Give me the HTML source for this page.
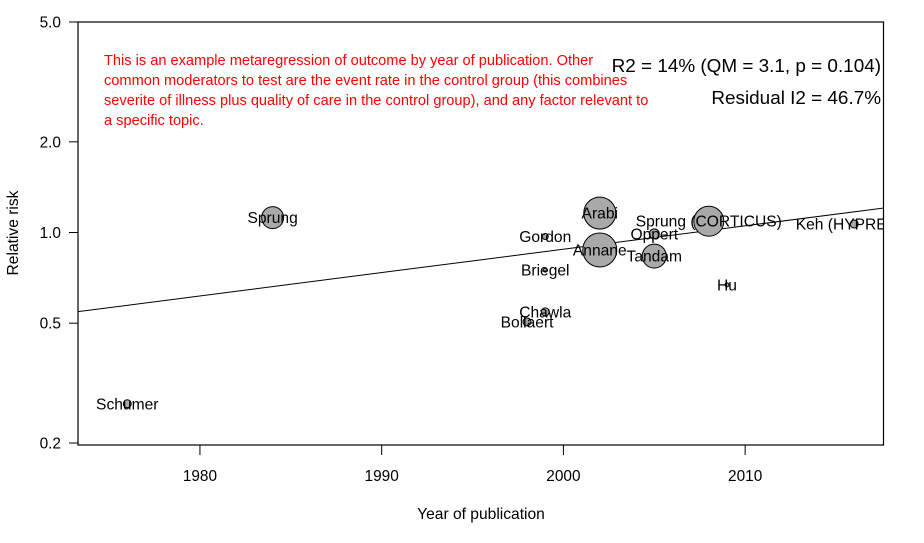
<!DOCTYPE html>
<html><head><meta charset="utf-8"><style>
html,body{margin:0;padding:0;background:#fff;}
svg{display:block;font-family:"Liberation Sans",Arial,sans-serif;}
</style></head><body>
<svg id="chart" width="924" height="543" viewBox="0 0 924 543">
<rect x="0" y="0" width="924" height="543" fill="#fff"/>
<g id="marks"></g>
<rect x="78" y="22" width="805.5" height="423" fill="none" stroke="#000" stroke-width="1.2"/>
<text x="104" y="65" fill="#ff0000" font-size="14.6">
<tspan x="104" y="65">This is an example metaregression of  outcome by year of publication. Other</tspan>
<tspan x="104" y="85">common moderators to test are the event rate in the control group (this combines</tspan>
<tspan x="104" y="105">severite of illness plus quality of care in the control group), and any factor relevant to</tspan>
<tspan x="104" y="125">a specific topic.</tspan>
</text>
<text x="881" y="72" text-anchor="end" font-size="18.9">R2 = 14% (QM = 3.1, p = 0.104)</text>
<text x="881" y="104" text-anchor="end" font-size="18.9">Residual I2 = 46.7%</text>
<text x="481" y="519" text-anchor="middle" font-size="15.6">Year of publication</text>
<text transform="translate(18,233) rotate(-90)" text-anchor="middle" font-size="15.6">Relative risk</text>
</svg>
<script>
const studies=["Schumer","Sprung","Gordon","Arabi","Annane","Oppert","Tandam","Sprung (CORTICUS)","Keh (HYPRESS)","Hu","Briegel","Chawla","Bollaert"];
const years=[1976,1984,1999,2002,2002,2005,2005,2008,2016,2009,1999,1999,1998];
const rr=[0.27,1.12,0.97,1.16,0.875,0.99,0.835,1.09,1.067,0.67,0.75,0.545,0.505];
const radii=[4,11,3,16,17,5,12,15,4,2,2,4,4];
const xTicks=[1980,1990,2000,2010];
const yTicks=[0.2,0.5,1.0,2.0,5.0];
const yTickLabels=["0.2","0.5","1.0","2.0","5.0"];
const regIntercept=-0.0555; // log10 RR at 2000
const regSlope=0.007757;    // per year
const X0=1973.29,X1=2017.64,PX0=78,PX1=884;
function xs(v){return PX0+(v-X0)/(X1-X0)*(PX1-PX0);}
function ys(v){return 232.5-Math.log10(v)*301.2;}
const NS="http://www.w3.org/2000/svg";
const g=document.getElementById('marks');
function mk(t,a){const e=document.createElementNS(NS,t);for(const k in a)e.setAttribute(k,a[k]);g.appendChild(e);return e;}
xTicks.forEach(t=>{
  const l=mk('line',{x1:xs(t),x2:xs(t),y1:445,y2:455,stroke:'#000','stroke-width':1});
  
  
  const tx=mk('text',{x:xs(t),y:481,'text-anchor':'middle','font-size':15.4});
  tx.textContent=t;
  
  
});
yTicks.forEach((t,i)=>{
  const l=mk('line',{x1:69,x2:78,y1:ys(t),y2:ys(t),stroke:'#000','stroke-width':1});
  
  
  const tx=mk('text',{x:61,y:ys(t)+5.5,'text-anchor':'end','font-size':15.4});
  tx.textContent=yTickLabels[i];
  
  
});
const ry=y=>Math.pow(10,regIntercept+regSlope*(y-2000));
const rl=mk('line',{x1:xs(X0),y1:ys(ry(X0)),x2:xs(X1),y2:ys(ry(X1)),stroke:'#000','stroke-width':1});


studies.forEach((s,i)=>{
  const c=mk('circle',{cx:xs(years[i]),cy:ys(rr[i]),r:radii[i],fill:'#a9a9a9',stroke:'#000','stroke-width':1});
  
  
});
studies.forEach((s,i)=>{
  const t=mk('text',{x:xs(years[i]),y:ys(rr[i])+5.5,'text-anchor':'middle','font-size':15.6});
  t.textContent=s;
  
  
});
const cp=document.createElementNS(NS,'clipPath');cp.id='clp';
const cr=document.createElementNS(NS,'rect');cr.setAttribute('x',0);cr.setAttribute('y',0);cr.setAttribute('width',883);cr.setAttribute('height',543);
cp.appendChild(cr);document.getElementById('chart').appendChild(cp);
g.setAttribute('clip-path','url(#clp)');
</script>
</body></html>
